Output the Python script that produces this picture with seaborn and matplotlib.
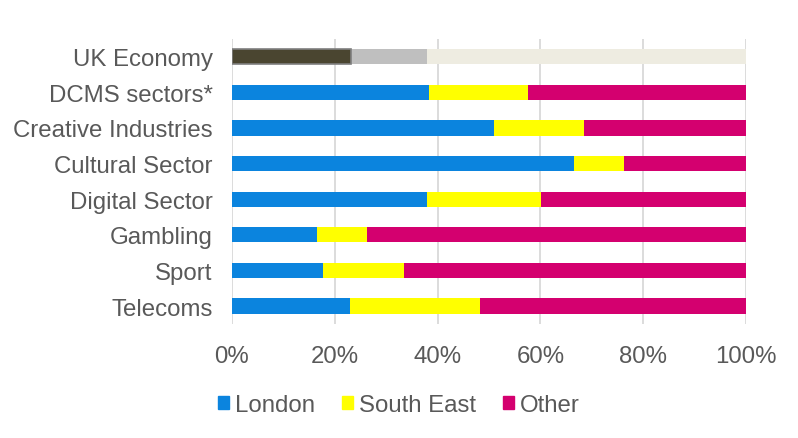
import matplotlib
matplotlib.use("Agg")
import matplotlib.pyplot as plt
from matplotlib.patches import Patch
from matplotlib.ticker import PercentFormatter
import seaborn as sns
import pandas as pd

categories = ["UK Economy", "DCMS sectors*", "Creative Industries", "Cultural Sector",
              "Digital Sector", "Gambling", "Sport", "Telecoms"]
london = [23.2, 38.3, 51.0, 66.6, 37.9, 16.5, 17.7, 23.0]
south_east = [14.8, 19.2, 17.4, 9.6, 22.2, 9.8, 15.7, 25.3]
other = [62.0, 42.5, 31.6, 23.8, 39.9, 73.7, 66.6, 51.7]

df = pd.DataFrame({"sector": categories, "London": london,
                   "South East": south_east, "Other": other})
df["se_cum"] = df["London"] + df["South East"]
df["total"] = df["se_cum"] + df["Other"]

blue, yellow, magenta = "#0b84de", "#ffff00", "#d4006f"
grey_txt = "#595959"

sns.set_style("white")
plt.rcParams["font.family"] = ["Liberation Sans", "DejaVu Sans"]

fig = plt.figure(figsize=(7.98, 4.39), dpi=100)
ax = fig.add_axes([0.2907, 0.26, 0.6441, 0.649])

def pal(uk_col, col):
    return {c: (uk_col if c == "UK Economy" else col) for c in categories}

sns.barplot(data=df, x="total", y="sector", hue="sector", order=categories,
            palette=pal("#eeece1", magenta), width=0.43, legend=False, ax=ax,
            linewidth=0, saturation=1, zorder=2)
sns.barplot(data=df, x="se_cum", y="sector", hue="sector", order=categories,
            palette=pal("#bfbfbf", yellow), width=0.43, legend=False, ax=ax,
            linewidth=0, saturation=1, zorder=3)
sns.barplot(data=df, x="London", y="sector", hue="sector", order=categories,
            palette=pal("#4a4530", blue), width=0.43, legend=False, ax=ax,
            linewidth=0, saturation=1, zorder=4)

# grey outline on the UK Economy dark segment
ax.patches[-len(categories)].set_edgecolor("#7f7f7f")
ax.patches[-len(categories)].set_linewidth(1.2)

ax.set_xlim(0, 100)
ax.set_ylim(len(categories) - 0.5, -0.5)
ax.set_xticks([0, 20, 40, 60, 80, 100])
ax.xaxis.set_major_formatter(PercentFormatter(decimals=0))
ax.grid(axis="x", color="#d9d9d9", linewidth=1.3, zorder=0)
ax.set_axisbelow(True)
for s in ax.spines.values():
    s.set_visible(False)
ax.set_xlabel("")
ax.set_ylabel("")
ax.tick_params(axis="both", length=0, labelsize=17.3, labelcolor=grey_txt)
ax.tick_params(axis="y", pad=14)
ax.tick_params(axis="x", pad=15)

handles = [Patch(color=blue, label="London"), Patch(color=yellow, label="South East"),
           Patch(color=magenta, label="Other")]
fig.legend(handles=handles, loc="center", bbox_to_anchor=(0.5, 0.075), ncol=3,
           frameon=False, fontsize=17.3, labelcolor=grey_txt, handlelength=0.48,
           handleheight=0.48, handletextpad=0.25, columnspacing=1.1)

fig.savefig("out.png", dpi=100)
